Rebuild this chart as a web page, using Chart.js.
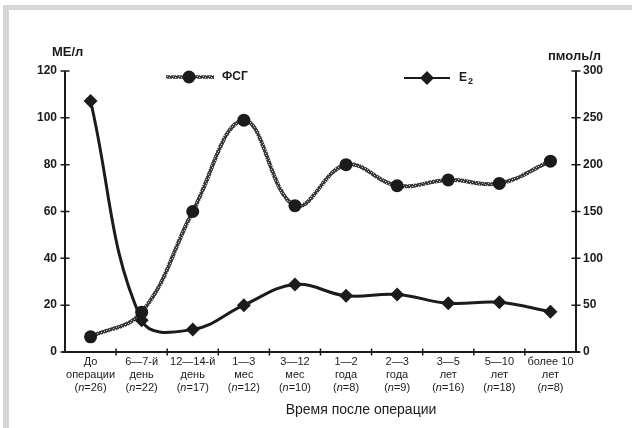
<!DOCTYPE html>
<html>
<head>
<meta charset="utf-8">
<script src="https://cdn.jsdelivr.net/npm/chart.js@4/dist/chart.umd.min.js"></script>
<style>
  html, body { margin: 0; padding: 0; background: #fff; }
  canvas { display: block; }
</style>
</head>
<body>
<canvas id="hormoneChart" width="632" height="428"></canvas>
<script>
// time after surgery, two label lines per group
const categories = [
  ["До", "операции"], ["6—7-й", "день"], ["12—14-й", "день"], ["1—3", "мес"], ["3—12", "мес"],
  ["1—2", "года"], ["2—3", "года"], ["3—5", "лет"], ["5—10", "лет"], ["более 10", "лет"]
];
const groupSizes = [26, 22, 17, 12, 10, 8, 9, 16, 18, 8];

// ФСГ, МЕ/л (left axis)
const fshValues = [6.5, 17, 60, 99, 62.5, 80, 71, 73.5, 72, 81.5];
// E2, пмоль/л (right axis)
const e2Values = [268, 34, 24, 50, 72, 60, 61.5, 52, 53, 43];

const leftTicks = [0, 20, 40, 60, 80, 100, 120];
const rightTicks = [0, 50, 100, 150, 200, 250, 300];

const FONT = "'Liberation Sans', Arial, sans-serif";
const INK = "#1b1b1b";

const ctx = document.getElementById("hormoneChart").getContext("2d");

// grainy grey stroke for the ФСГ curve
function speckle() {
  const c = document.createElement("canvas");
  c.width = 6; c.height = 4;
  const g = c.getContext("2d");
  g.fillStyle = "#3a3a3a";
  g.fillRect(0, 0, 6, 4);
  g.fillStyle = "#c4c4c4";
  g.fillRect(1, 1, 1, 1);
  g.fillRect(4, 2, 1, 1);
  g.fillRect(2, 3, 1, 1);
  g.fillRect(5, 0, 1, 1);
  return ctx.createPattern(c, "repeat");
}
const fshStroke = speckle();

function diamond(g, x, y, r) {
  g.beginPath();
  g.moveTo(x, y - r); g.lineTo(x + r, y); g.lineTo(x, y + r); g.lineTo(x - r, y);
  g.closePath();
  g.fill();
}

const axesPlugin = {
  id: "axesPlugin",
  beforeDraw(chart) {
    const g = chart.ctx;
    g.save();
    g.fillStyle = "#d6d6d6";
    g.fillRect(3, 5, 629, 5);
    g.fillRect(3, 5, 6, 423);
    g.restore();
  },
  beforeDatasetsDraw(chart) {
    const g = chart.ctx;
    const area = chart.chartArea;
    const xs = chart.scales.x, yl = chart.scales.y, yr = chart.scales.y2;
    g.save();
    g.strokeStyle = INK;
    g.fillStyle = INK;
    g.lineWidth = 2;

    // axis lines
    g.beginPath();
    g.moveTo(area.left, area.top); g.lineTo(area.left, area.bottom + 1);
    g.moveTo(area.right, area.top); g.lineTo(area.right, area.bottom + 1);
    g.moveTo(area.left - 3, area.bottom); g.lineTo(area.right + 4, area.bottom);
    g.stroke();

    // tick crosses on value axes
    g.lineWidth = 1.5;
    g.beginPath();
    leftTicks.forEach(v => {
      const y = yl.getPixelForValue(v);
      g.moveTo(area.left - 4.5, y); g.lineTo(area.left + 4.5, y);
    });
    rightTicks.forEach(v => {
      const y = yr.getPixelForValue(v);
      g.moveTo(area.right - 4.5, y); g.lineTo(area.right + 4.5, y);
    });
    // category boundaries on the time axis
    for (let i = 1; i < categories.length; i++) {
      const x = (xs.getPixelForValue(i - 1) + xs.getPixelForValue(i)) / 2;
      g.moveTo(x, area.bottom - 3.5); g.lineTo(x, area.bottom + 3.5);
    }
    g.stroke();

    // value labels
    g.font = "bold 12px " + FONT;
    g.textBaseline = "middle";
    g.textAlign = "right";
    leftTicks.forEach(v => g.fillText(String(v), area.left - 8, yl.getPixelForValue(v)));
    g.textAlign = "left";
    rightTicks.forEach(v => g.fillText(String(v), area.right + 7, yr.getPixelForValue(v)));

    // units
    g.font = "bold 13px " + FONT;
    g.textAlign = "left";
    g.fillText("МЕ/л", 52, 52);
    g.fillText("пмоль/л", 548, 56);

    // group labels
    g.font = "11px " + FONT;
    categories.forEach((lines, i) => {
      const x = xs.getPixelForValue(i);
      g.textAlign = "center";
      g.font = "11px " + FONT;
      g.fillText(lines[0], x, 362);
      g.fillText(lines[1], x, 375);
      const a = "(", b = "n", c = "=" + groupSizes[i] + ")";
      const wa = g.measureText(a).width, wc = g.measureText(c).width;
      g.font = "italic 11px " + FONT;
      const wb = g.measureText(b).width;
      const sx = x - (wa + wb + wc) / 2;
      g.textAlign = "left";
      g.font = "11px " + FONT;
      g.fillText(a, sx, 388);
      g.font = "italic 11px " + FONT;
      g.fillText(b, sx + wa, 388);
      g.font = "11px " + FONT;
      g.fillText(c, sx + wa + wb, 388);
    });

    g.font = "14px " + FONT;
    g.textAlign = "center";
    g.fillText("Время после операции", 361, 410);

    // legend
    g.lineWidth = 3.5;
    g.strokeStyle = fshStroke;
    g.beginPath(); g.moveTo(166, 77); g.lineTo(214, 77); g.stroke();
    g.beginPath(); g.arc(189, 77, 6.5, 0, Math.PI * 2); g.fill();
    g.font = "bold 12px " + FONT;
    g.textAlign = "left";
    g.fillText("ФСГ", 222, 77);

    g.strokeStyle = INK;
    g.lineWidth = 2;
    g.beginPath(); g.moveTo(404, 78); g.lineTo(450, 78); g.stroke();
    diamond(g, 427, 78, 7);
    g.fillText("E", 459, 78);
    g.font = "bold 9px " + FONT;
    g.fillText("2", 468, 82);
    g.restore();
  }
};

new Chart(ctx, {
  type: "line",
  data: {
    labels: categories.map(c => c.join(" ")),
    datasets: [
      {
        label: "E2",
        data: e2Values,
        yAxisID: "y2",
        borderColor: INK,
        backgroundColor: INK,
        borderWidth: 3,
        tension: 0.4,
        pointStyle: "rectRot",
        pointRadius: 7,
        pointBorderWidth: 0,
        clip: false
      },
      {
        label: "ФСГ",
        data: fshValues,
        yAxisID: "y",
        borderColor: fshStroke,
        backgroundColor: INK,
        borderWidth: 4,
        tension: 0.4,
        pointStyle: "circle",
        pointRadius: 6.5,
        pointBorderWidth: 0,
        clip: false
      }
    ]
  },
  options: {
    responsive: false,
    animation: false,
    devicePixelRatio: 1,
    layout: { padding: { left: 65, right: 56, top: 71, bottom: 76 } },
    plugins: {
      legend: { display: false },
      tooltip: { enabled: false }
    },
    scales: {
      x: { type: "category", offset: true, display: false },
      y: { position: "left", min: 0, max: 120, display: false },
      y2: { position: "right", min: 0, max: 300, display: false }
    }
  },
  plugins: [axesPlugin]
});
</script>
</body>
</html>
